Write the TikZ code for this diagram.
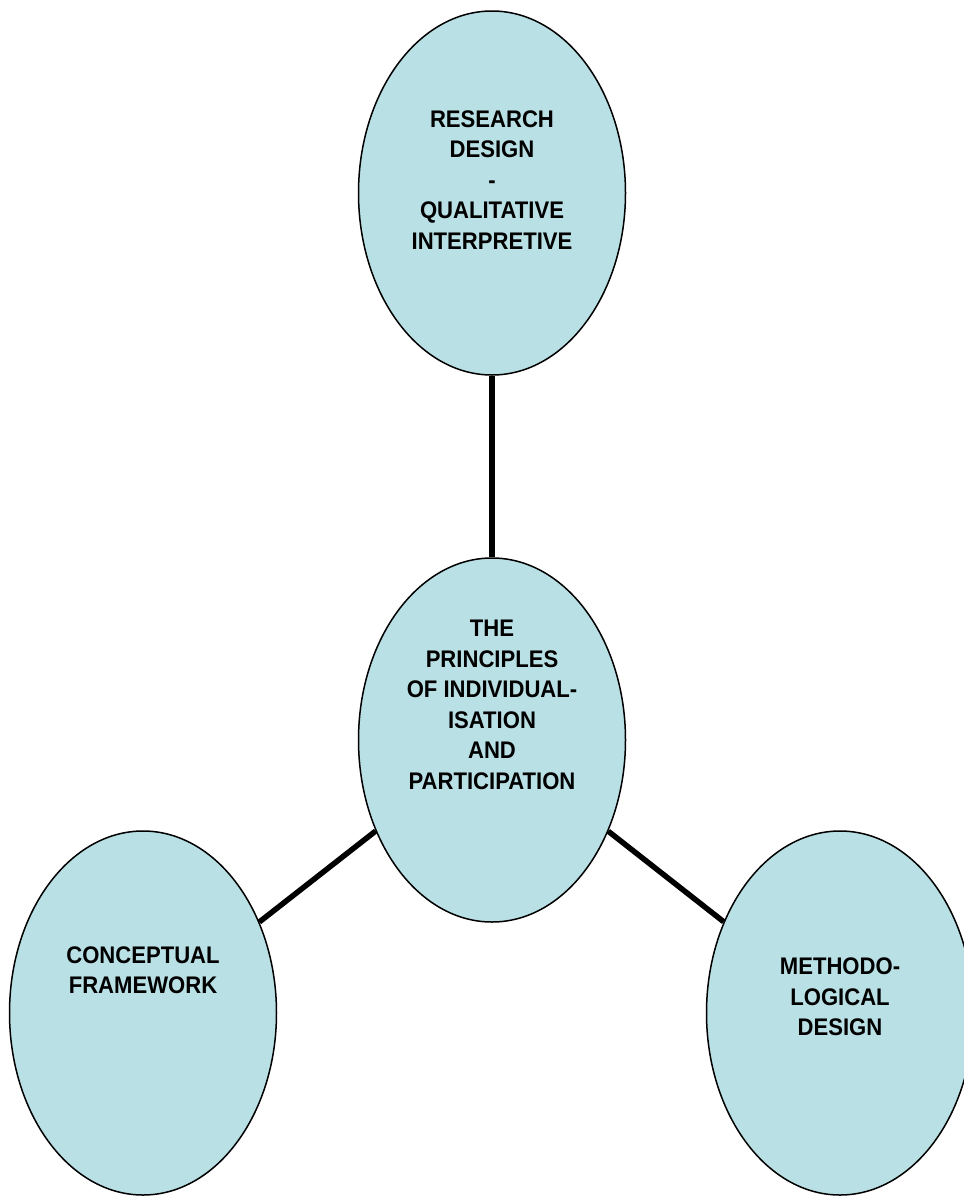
\documentclass[tikz,border=0pt]{standalone}
\usepackage{fontspec}
\setmainfont{Liberation Sans}[FakeStretch=0.92]
\usetikzlibrary{shapes.geometric,positioning}
\definecolor{bubblefill}{RGB}{185,224,228}

\begin{document}
\begin{tikzpicture}[-,line width=1.5pt,on grid,
  main node/.style={ellipse,draw,fill=bubblefill,inner sep=0pt,
    minimum width=267pt,minimum height=364pt},
  text node/.style={align=center,inner sep=0pt,
    font=\fontsize{24}{30.5}\selectfont\bfseries}]
  \useasboundingbox (0,0) rectangle (964pt,-1197pt);
  \node[main node] (principles) at (492pt,-740pt) {};
  \node[main node] (research) [above=547pt of principles] {};
  \node[main node] (concept) [below left=273pt and 349pt of principles] {};
  \node[main node] (method) [below right=273pt and 348pt of principles] {};
  \path[line width=5.5pt]
    (research) edge (principles)
    (principles) edge (concept)
    (principles) edge (method)
;
  \node[text node] (research text) at ([yshift=13pt]research.center)
    {RESEARCH\\DESIGN\\-\\QUALITATIVE\\INTERPRETIVE};
  \node[text node] (principles text) at ([yshift=35pt]principles.center)
    {THE\\PRINCIPLES\\OF INDIVIDUAL-\\ISATION\\AND\\PARTICIPATION};
  \node[text node] (concept text) at ([yshift=43pt]concept.center)
    {CONCEPTUAL\\FRAMEWORK};
  \node[text node] (method text) at ([yshift=16pt]method.center)
    {METHODO-\\LOGICAL\\DESIGN};
\end{tikzpicture}
\end{document}
